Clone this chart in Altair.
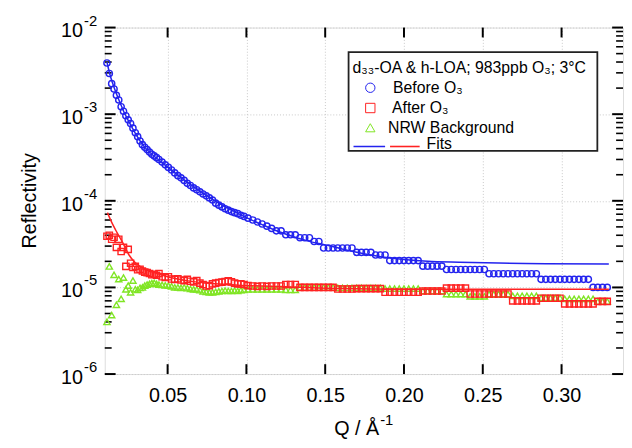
import altair as alt
import pandas as pd

# ---------------- data ----------------
q_low = [0.0115, 0.013, 0.0145, 0.016, 0.0175, 0.019, 0.0205, 0.022, 0.0235, 0.025,
         0.0265, 0.028, 0.0295, 0.031, 0.0325, 0.034, 0.0355, 0.037, 0.0385, 0.040,
         0.0415, 0.043, 0.0445]
q_mid = [0.0465, 0.0485, 0.0505, 0.0525, 0.0545, 0.0565, 0.0585, 0.0605, 0.0625, 0.0645,
         0.0665, 0.0685, 0.0705, 0.0725, 0.0745, 0.0765, 0.0785, 0.0805, 0.0825, 0.0845,
         0.0865, 0.0885, 0.0905, 0.0925, 0.0945, 0.0965, 0.0985]
q_high = [0.101, 0.104, 0.107, 0.110, 0.113, 0.116, 0.119, 0.122, 0.125, 0.128,
          0.131, 0.134, 0.137, 0.140, 0.143, 0.146, 0.149, 0.152, 0.155, 0.158,
          0.161, 0.164, 0.167, 0.170, 0.173, 0.176, 0.179, 0.182, 0.185, 0.188,
          0.191, 0.194, 0.197, 0.200, 0.203, 0.206, 0.209, 0.212, 0.215, 0.218,
          0.221, 0.224, 0.227, 0.230, 0.233, 0.236, 0.239, 0.242, 0.245, 0.248,
          0.251, 0.254, 0.257, 0.260, 0.263, 0.266, 0.269, 0.272, 0.275, 0.278,
          0.281, 0.284, 0.287, 0.290, 0.293, 0.296, 0.299, 0.302, 0.305, 0.308,
          0.311, 0.314, 0.317, 0.320, 0.323, 0.326, 0.329]

before_low = [3.9e-3, 2.95e-3, 2.25e-3, 1.95e-3, 1.65e-3, 1.46e-3, 1.22e-3, 1.08e-3, 9.6e-4, 8.6e-4,
              7.8e-4, 6.9e-4, 6.1e-4, 5.5e-4, 4.9e-4, 4.45e-4, 4.15e-4, 3.9e-4, 3.65e-4, 3.45e-4,
              3.3e-4, 3.15e-4, 3.0e-4]
before_mid = [2.8e-4, 2.6e-4, 2.43e-4, 2.27e-4, 2.1e-4, 1.95e-4, 1.84e-4, 1.72e-4, 1.59e-4, 1.5e-4,
              1.41e-4, 1.34e-4, 1.27e-4, 1.2e-4, 1.14e-4, 1.08e-4, 1.02e-4, 9.4e-5, 8.9e-5, 8.5e-5,
              8.1e-5, 7.8e-5, 7.5e-5, 7.3e-5, 7.1e-5, 6.8e-5, 6.6e-5]
before_high = ([6.3e-5, 6.0e-5, 5.7e-5, 5.4e-5, 5.1e-5, 4.8e-5, 4.5e-5] + [4.5e-5]
               + [4.05e-5] * 3 + [3.74e-5] * 3 + [3.39e-5] * 2 + [2.85e-5] * 7
               + [2.54e-5] * 4 + [2.37e-5] * 3 + [2.04e-5] * 7 + [1.76e-5] * 5
               + [1.61e-5] * 9 + [1.44e-5] * 11 + [1.24e-5] * 11 + [1.0e-5] * 4)

after_low = [3.9e-5, 4.0e-5, 3.6e-5, 3.8e-5, 2.9e-5, 3.6e-5, 2.6e-5, 2.9e-5, 1.75e-5, 2.75e-5,
             1.9e-5, 1.7e-5, 1.75e-5, 1.6e-5, 1.62e-5, 1.55e-5, 1.5e-5, 1.48e-5, 1.45e-5, 1.4e-5,
             1.42e-5, 1.38e-5, 1.45e-5]
after_mid = [1.33e-5, 1.3e-5, 1.33e-5, 1.25e-5, 1.24e-5, 1.26e-5, 1.22e-5, 1.2e-5, 1.24e-5, 1.18e-5,
             1.16e-5, 1.2e-5, 1.12e-5, 1.08e-5, 1.04e-5, 1.05e-5, 1.1e-5, 1.12e-5, 1.14e-5, 1.15e-5,
             1.17e-5, 1.19e-5, 1.16e-5, 1.12e-5, 1.1e-5, 1.1e-5, 1.08e-5]
after_high = ([1.05e-5, 1.04e-5, 1.03e-5, 1.04e-5, 1.03e-5, 1.04e-5, 1.04e-5] + [1.04e-5]
              + [1.08e-5] * 3 + [1.0e-5] * 8 + [9.6e-6] * 4 + [9.7e-6] * 6
              + [8.8e-6] * 8 + [9.1e-6] * 5 + [9.8e-6] * 5 + [8.4e-6] * 9
              + [7.0e-6] * 6 + [7.5e-6] * 5 + [6.45e-6] * 7 + [6.9e-6] * 3)

nrw_low = [4.0e-6, 1.75e-5, 4.8e-6, 1.4e-5, 6.3e-6, 1.25e-5, 7.4e-6, 1.3e-5, 9.5e-6, 1.05e-5,
           8.8e-6, 1.2e-5, 9.5e-6, 9.4e-6, 9.9e-6, 1.0e-5, 1.05e-5, 1.08e-5, 1.1e-5, 1.12e-5,
           1.13e-5, 1.1e-5, 1.08e-5]
nrw_mid = [1.07e-5, 1.06e-5, 1.05e-5, 1.03e-5, 1.0e-5, 1.0e-5, 9.9e-6, 1.0e-5, 9.8e-6, 9.6e-6,
           9.5e-6, 9.5e-6, 9.3e-6, 9.0e-6, 8.9e-6, 8.8e-6, 8.8e-6, 8.9e-6, 9.0e-6, 9.1e-6,
           9.2e-6, 9.1e-6, 9.1e-6, 9.2e-6, 9.1e-6, 9.3e-6, 9.4e-6]
nrw_high = ([9.5e-6] * 7 + [9.5e-6] + [9.4e-6] * 3 + [1.0e-5] * 8 + [9.9e-6] * 4
            + [9.9e-6] * 6 + [9.7e-6] * 8 + [9.1e-6] * 5 + [8.4e-6] * 5 + [7.9e-6] * 4
            + [8.4e-6] * 5 + [8.0e-6] * 6 + [7.6e-6] * 5 + [7.4e-6] * 7 + [6.9e-6] * 3)

fit_before_q = [0.0115, 0.013, 0.015, 0.0175, 0.020, 0.0225, 0.025, 0.0275, 0.030,
                0.035, 0.040, 0.045, 0.050, 0.055, 0.060, 0.065, 0.070,
                0.080, 0.090, 0.100, 0.110, 0.120, 0.130, 0.140, 0.150, 0.160, 0.170,
                0.180, 0.190, 0.200, 0.215, 0.235, 0.260, 0.290, 0.330]
fit_before_r = [4.0e-3, 3.05e-3, 2.3e-3, 1.72e-3, 1.33e-3, 1.04e-3, 8.5e-4, 7.0e-4, 5.8e-4,
                4.25e-4, 3.45e-4, 2.9e-4, 2.45e-4, 2.08e-4, 1.77e-4, 1.52e-4, 1.31e-4,
                1.0e-4, 7.9e-5, 6.4e-5, 5.3e-5, 4.45e-5, 3.85e-5, 3.4e-5, 3.1e-5, 2.8e-5, 2.55e-5,
                2.35e-5, 2.2e-5, 2.1e-5, 2.0e-5, 1.95e-5, 1.91e-5, 1.88e-5, 1.86e-5]
fit_after_q = [0.0118, 0.014, 0.017, 0.0211, 0.0253, 0.0295, 0.035, 0.042, 0.050, 0.063,
               0.080, 0.095, 0.125, 0.160, 0.200, 0.330]
fit_after_r = [7.3e-5, 5.9e-5, 4.6e-5, 3.4e-5, 2.4e-5, 1.92e-5, 1.65e-5, 1.48e-5, 1.33e-5, 1.19e-5,
               1.1e-5, 1.06e-5, 1.02e-5, 9.7e-6, 9.5e-6, 9.5e-6]

x_ticks = [0.05, 0.10, 0.15, 0.20, 0.25, 0.30]
y_major = [1e-6, 1e-5, 1e-4, 1e-3, 1e-2]
y_sup = ["-6", "-5", "-4", "-3", "-2"]
y_minor = [m * 10.0 ** e for e in range(-6, -2) for m in range(2, 10)]

q = q_low + q_mid + q_high
before_r = before_low + before_mid + before_high
after_r = after_low + after_mid + after_high
nrw_r = nrw_low + nrw_mid + nrw_high
assert len(q) == len(before_r) == len(after_r) == len(nrw_r)

# ---------------- chart ----------------
W, H = 525, 351
BLUE = "#2323ee"
RED = "#ff2222"
GREEN = "#80e524"
FONT = "Liberation Sans"

XS = alt.Scale(domain=[0.0101, 0.339], nice=False, zero=False)
YS = alt.Scale(type="log", domain=[1e-6, 1e-2], nice=False)
XAX = alt.Axis(values=x_ticks, format=".2f", grid=True, gridColor="#c8c8c8", gridDash=[1, 2],
               ticks=False, tickSize=0, domain=False, labelFontSize=20, labelPadding=12,
               labelColor="black", labelFont=FONT, title=None)
YAX = alt.Axis(values=y_major, grid=True, gridColor="#c8c8c8", gridDash=[1, 2],
               ticks=False, tickSize=0, domain=False, labels=False, title=None)


def xenc():
    return alt.X("q:Q", scale=XS, axis=XAX)


def yenc():
    return alt.Y("r:Q", scale=YS, axis=YAX)


df_before = pd.DataFrame({"q": q, "r": before_r})
df_after = pd.DataFrame({"q": q, "r": after_r})
df_nrw = pd.DataFrame({"q": q, "r": nrw_r})
df_fb = pd.DataFrame({"q": fit_before_q, "r": fit_before_r})
df_fa = pd.DataFrame({"q": fit_after_q, "r": fit_after_r})
one = pd.DataFrame({"k": [0]})

pts_nrw = alt.Chart(df_nrw).mark_point(shape="triangle-up", filled=False, size=40,
                                       strokeWidth=1.4, color=GREEN, opacity=1).encode(x=xenc(), y=yenc())
pts_after = alt.Chart(df_after).mark_point(shape="square", filled=False, size=40,
                                           strokeWidth=1.4, color=RED, opacity=1).encode(x=xenc(), y=yenc())
pts_before = alt.Chart(df_before).mark_point(shape="circle", filled=False, size=40,
                                             strokeWidth=1.4, color=BLUE, opacity=1).encode(x=xenc(), y=yenc())
line_b = alt.Chart(df_fb).mark_line(color=BLUE, strokeWidth=1.5, interpolate="monotone").encode(x=xenc(), y=yenc())
line_a = alt.Chart(df_fa).mark_line(color=RED, strokeWidth=1.5, interpolate="monotone").encode(x=xenc(), y=yenc())

# tick marks (inward, mirrored)
df_ymaj = pd.DataFrame({"r": y_major, "base": ["10"] * len(y_major), "sup": y_sup})
df_ymin = pd.DataFrame({"r": y_minor})
df_xt = pd.DataFrame({"q": x_ticks})
tick_layers = [
    alt.Chart(df_ymaj).mark_rule(color="black", strokeWidth=2).encode(y=yenc(), x=alt.value(0), x2=alt.value(11)),
    alt.Chart(df_ymaj).mark_rule(color="black", strokeWidth=2).encode(y=yenc(), x=alt.value(W - 11), x2=alt.value(W)),
    alt.Chart(df_ymin).mark_rule(color="black", strokeWidth=1.6).encode(y=yenc(), x=alt.value(0), x2=alt.value(7)),
    alt.Chart(df_ymin).mark_rule(color="black", strokeWidth=1.6).encode(y=yenc(), x=alt.value(W - 7), x2=alt.value(W)),
    alt.Chart(df_xt).mark_rule(color="black", strokeWidth=2).encode(x=xenc(), y=alt.value(H - 10), y2=alt.value(H)),
    alt.Chart(df_xt).mark_rule(color="black", strokeWidth=2).encode(x=xenc(), y=alt.value(0), y2=alt.value(10)),
]

ylab_base = alt.Chart(df_ymaj).mark_text(align="right", baseline="middle", dy=4, fontSize=20,
                                         font=FONT, color="black").encode(y=yenc(), x=alt.value(-22), text="base:N")
ylab_sup = alt.Chart(df_ymaj).mark_text(align="left", baseline="middle", dy=-7, fontSize=15,
                                        font=FONT, color="black").encode(y=yenc(), x=alt.value(-21), text="sup:N")

y_title = alt.Chart(one).mark_text(text="Reflectivity", angle=270, fontSize=20, font=FONT,
                                   align="center", baseline="middle", color="black").encode(
    x=alt.value(-76), y=alt.value(H / 2))
x_title = alt.Chart(one).mark_text(text="Q / Å", align="right", baseline="middle", fontSize=20,
                                   font=FONT, color="black").encode(x=alt.value(278), y=alt.value(407))
x_title_sup = alt.Chart(one).mark_text(text="-1", align="left", baseline="middle", fontSize=15,
                                       font=FONT, color="black").encode(x=alt.value(279), y=alt.value(398))

# legend
leg_box = alt.Chart(one).mark_rect(fill="white", stroke="#222222", strokeWidth=1.8).encode(
    x=alt.value(247), x2=alt.value(499), y=alt.value(25), y2=alt.value(125))
leg_title = alt.Chart(one).mark_text(text="d₃₃-OA & h-LOA; 983ppb O₃; 3°C", align="left",
                                     baseline="middle", fontSize=16, font=FONT, color="black").encode(
    x=alt.value(251), y=alt.value(41))
leg_items = []
for shape, col, label, yy, tx in [("circle", BLUE, "Before O₃", 61, 292),
                                  ("square", RED, "After O₃", 81.5, 291),
                                  ("triangle-up", GREEN, "NRW Background", 101.5, 287)]:
    leg_items.append(alt.Chart(one).mark_point(shape=shape, filled=False, size=90, strokeWidth=1,
                                               color=col, opacity=1).encode(x=alt.value(269), y=alt.value(yy)))
    leg_items.append(alt.Chart(one).mark_text(text=label, align="left", baseline="middle", fontSize=16,
                                              font=FONT, color="black").encode(x=alt.value(tx), y=alt.value(yy)))
leg_items += [
    alt.Chart(one).mark_rule(color=BLUE, strokeWidth=1.6).encode(x=alt.value(252), x2=alt.value(284), y=alt.value(120.5)),
    alt.Chart(one).mark_rule(color=RED, strokeWidth=1.6).encode(x=alt.value(289), x2=alt.value(319), y=alt.value(120.5)),
    alt.Chart(one).mark_text(text="Fits", align="left", baseline="middle", fontSize=16, font=FONT,
                             color="black").encode(x=alt.value(326), y=alt.value(118)),
]

chart = alt.layer(
    *tick_layers, pts_nrw, pts_after, pts_before, line_b, line_a,
    leg_box, leg_title, *leg_items,
    ylab_base, ylab_sup, y_title, x_title, x_title_sup,
).properties(
    width=W, height=H,
    autosize=alt.AutoSizeParams(type="none"),
    padding={"left": 98, "top": 17, "right": 1, "bottom": 64},
).configure_view(stroke="black", strokeWidth=2).configure(font=FONT, background="white")

chart.save("out.html", embed_options={"renderer": "svg", "actions": False})
